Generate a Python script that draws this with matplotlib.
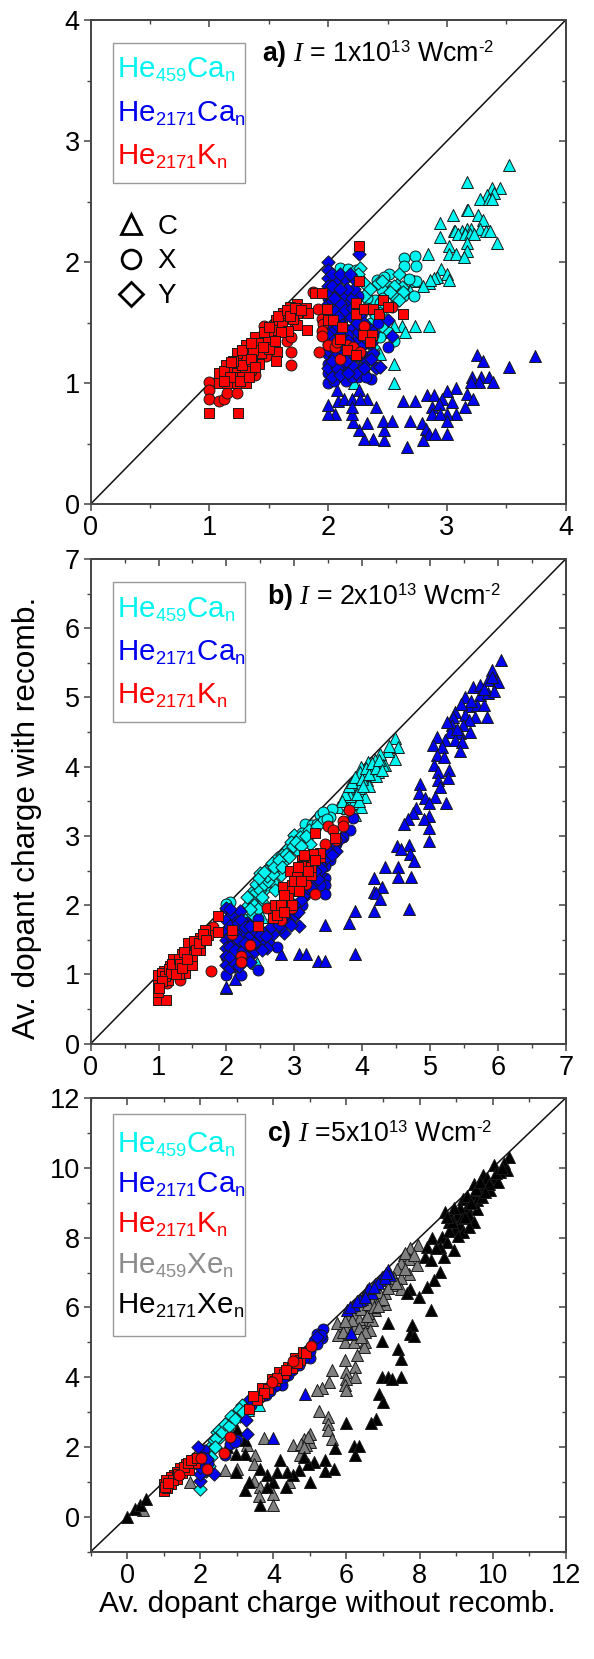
"""
Average dopant charge with and without recombination, three intensities.
Usage: python3 plot.py
"""

import numpy as np
import matplotlib
matplotlib.use('Agg')
import matplotlib.pyplot as plt
from matplotlib import _mathtext
from matplotlib.lines import Line2D
from matplotlib.patches import Rectangle

plt.rcParams['font.family'] = ['Liberation Sans', 'DejaVu Sans']
plt.rcParams['mathtext.fontset'] = 'custom'
plt.rcParams['mathtext.rm'] = 'Liberation Sans'
plt.rcParams['mathtext.it'] = 'Liberation Serif:italic'
plt.rcParams['mathtext.bf'] = 'Liberation Sans:bold'
# smaller sub/superscripts than the default 0.7
_mathtext.SHRINK_FACTOR = 0.62

CYAN = '#00f5f0'
BLUE = '#0000f0'
RED = '#ff0000'
GRAY = '#808080'
BLACK = '#000000'

# panel a, I = 1e13
a_he459ca_c = np.array([[3.52,2.80],[3.17,2.66],[3.38,2.61],[3.45,2.61],[3.40,2.57],[3.34,2.55],[3.28,2.52],[3.35,2.52],
    [3.38,2.52],[3.17,2.43],[3.18,2.43],[3.05,2.39],[3.26,2.39],[3.30,2.35],[2.94,2.32],[3.06,2.26],[3.07,2.26],[3.13,2.26],
    [3.17,2.27],[3.20,2.27],[3.28,2.27],[3.33,2.26],[3.36,2.26],[3.09,2.23],[3.15,2.23],[3.19,2.23],[3.23,2.23],[2.94,2.21],
    [3.17,2.16],[3.42,2.16],[3.02,2.13],[3.17,2.09],[2.84,2.07],[3.02,2.07],[3.08,2.07],[3.14,2.04],[2.95,1.94],[3.00,1.90],
    [2.92,1.88],[2.89,1.87],[3.02,1.85],[2.85,1.83],[2.86,1.85],[2.80,1.80],[2.72,1.84],[2.69,1.76],[2.73,1.47],[2.62,1.47],
    [2.55,1.47],[2.85,1.47],[2.50,1.42],[2.44,1.24],[2.55,1.16],[2.55,1.00],[2.22,1.00],[2.30,1.20],[2.38,1.50],[2.65,1.42]])
a_he459ca_x = np.array([[2.73,2.05],[2.64,2.03],[2.64,1.97],[2.74,1.97],[2.51,1.90],[2.74,1.84],[2.68,1.86],[2.41,1.85],
    [2.50,1.80],[2.54,1.77],[2.63,1.72],[2.72,1.72],[2.45,1.77],[2.39,1.69],[2.46,1.70],[2.37,1.60],[2.42,1.55],[2.50,1.42],
    [2.55,1.35],[2.10,1.95],[2.17,1.94],[2.23,1.93],[2.27,1.85],[2.33,1.70],[2.44,1.38],[2.42,1.62],[2.47,1.88],[2.57,1.68],
    [2.32,1.62],[2.36,1.50],[2.44,1.66],[2.38,1.25],[2.30,1.08]])
a_he459ca_y = np.array([[2.60,1.90],[2.27,1.95],[2.42,1.83],[2.45,1.84],[2.58,1.81],[2.62,1.79],[2.55,1.80],[2.63,1.75],
    [2.55,1.72],[2.60,1.69],[2.52,1.75],[2.30,1.83],[2.40,1.55],[2.45,1.47],[2.35,1.40],[2.38,1.30],[2.33,1.15],[2.25,1.90],
    [2.35,1.78],[2.30,1.72],[2.44,1.58]])
a_he2171ca_c = np.array([[3.74,1.22],[3.52,1.13],[3.25,1.23],[3.30,1.18],[3.21,1.05],[3.29,1.05],[3.35,1.05],[3.39,1.01],
    [3.27,1.01],[3.20,1.01],[3.08,0.96],[3.17,0.91],[3.22,0.87],[3.00,0.93],[3.04,0.84],[2.96,0.87],[2.83,0.90],[2.89,0.90],
    [2.63,0.85],[2.73,0.85],[2.87,0.80],[2.93,0.83],[3.15,0.80],[3.08,0.74],[3.00,0.74],[2.87,0.74],[2.94,0.74],[3.00,0.69],
    [2.69,0.69],[2.79,0.67],[2.82,0.62],[2.85,0.58],[2.90,0.58],[3.00,0.58],[2.80,0.53],[2.66,0.47],[2.47,0.53],[2.38,0.54],
    [2.30,0.54],[2.26,0.61],[2.47,0.61],[2.33,0.67],[2.46,0.69],[2.54,0.69],[2.21,0.68],[2.20,0.74],[2.06,0.74],[2.00,0.74],
    [2.00,0.82],[2.08,0.85],[2.13,0.87],[2.20,0.87],[2.20,0.80],[2.33,0.87],[2.40,0.80],[2.26,0.94],[2.07,0.94],[2.27,0.87]])
a_he2171ca_x = np.array([[2.00,1.00],[2.00,1.08],[2.00,1.16],[2.00,1.24],[2.00,1.32],[2.00,1.45],[2.00,1.58],[2.00,1.70],
    [2.08,1.05],[2.08,1.20],[2.08,1.35],[2.12,1.10],[2.15,1.02],[2.18,1.28],[2.20,1.45],[2.25,1.05],[2.28,1.12],[2.30,1.22],
    [2.36,1.03],[2.42,1.13],[2.50,1.30],[2.35,1.45],[2.30,1.60],[2.10,1.75],[2.15,1.60],[2.25,1.72],[2.05,1.12],[2.12,1.52],
    [2.04,1.42],[2.04,1.60],[2.05,1.02],[2.10,1.50],[2.14,1.15],[2.17,1.40],[2.22,1.22],[2.24,1.35],[2.26,1.50],[2.33,1.33],
    [2.38,1.40],[2.42,1.50],[2.32,1.05],[2.20,1.58],[2.13,1.32],[2.04,1.20],[2.12,1.68],[2.20,1.05],[2.28,1.42],[2.18,1.12]])
a_he2171ca_y = np.array([[2.00,2.00],[2.00,1.93],[2.00,1.87],[2.00,1.80],[2.00,1.73],[2.00,1.65],[2.00,1.55],[2.00,1.40],
    [2.00,1.27],[2.00,1.12],[2.26,2.07],[2.07,1.85],[2.14,1.86],[2.22,1.86],[2.07,1.76],[2.14,1.72],[2.50,1.52],[2.54,1.39],
    [2.38,1.25],[2.40,1.12],[2.44,1.13],[2.23,1.08],[2.17,1.65],[2.05,1.60],[2.09,1.55],[2.18,1.55],[2.10,1.40],[2.25,1.42],
    [2.03,1.30],[2.12,1.25],[2.20,1.15],[2.28,1.30],[2.33,1.18],[2.07,1.12],[2.15,1.18],[2.03,1.68],[2.20,1.70],[2.27,1.55],
    [2.12,1.48],[2.06,1.22],[2.22,1.78],[2.10,1.66],[2.16,1.78],[2.24,1.62],[2.31,1.42],[2.36,1.33],[2.03,1.90],[2.03,1.80],
    [2.05,1.70],[2.10,1.78],[2.10,1.90],[2.18,1.90],[2.14,1.60],[2.07,1.48],[2.04,1.35],[2.03,1.18],[2.03,1.05],[2.10,1.32],
    [2.10,1.07],[2.17,1.35],[2.17,1.08],[2.25,1.22],[2.30,1.50],[2.30,1.12],[2.38,1.42],[2.36,1.20],[2.20,1.62],[2.24,1.50]])
a_he2171k_x = np.array([[1.00,1.01],[1.00,0.94],[1.00,0.87],[1.08,0.85],[1.12,0.87],[1.15,0.92],[1.23,0.92],[1.38,1.07],
    [1.48,1.22],[1.46,1.47],[1.65,1.35],[1.69,1.26],[1.69,1.15],[1.69,1.38],[1.92,1.26],[1.87,1.75],[1.91,1.61],[1.95,1.53],
    [1.96,1.49],[1.95,1.43],[1.95,1.39],[2.00,1.31],[2.06,1.30],[2.10,1.20],[2.07,1.34],[2.16,1.31],[2.21,1.30],[2.27,1.26],
    [2.30,1.47],[2.54,1.63],[1.15,1.05],[1.25,1.20],[1.35,1.10],[1.55,1.40],[1.60,1.55],[1.72,1.50],[1.20,1.03],[1.42,1.30]])
a_he2171k_s = np.array([[1.00,0.75],[1.24,0.75],[2.26,2.13],[2.26,1.84],[1.89,1.74],[1.95,1.74],[1.74,1.65],[1.68,1.63],
    [1.81,1.62],[1.83,1.58],[1.74,1.58],[1.82,1.44],[1.99,1.61],[2.00,1.52],[2.04,1.52],[2.12,1.46],[2.10,1.36],[2.23,1.66],
    [2.23,1.57],[2.30,1.61],[2.38,1.61],[2.46,1.69],[2.43,1.57],[2.50,1.63],[2.63,1.57],[2.29,1.40],[2.37,1.40],[2.35,1.34],
    [2.16,1.27],[2.23,1.23],[1.08,1.08],[1.08,1.00],[1.15,1.00],[1.23,1.00],[1.31,1.00],[1.14,1.15],[1.19,1.12],[1.23,1.08],
    [1.30,1.13],[1.31,1.22],[1.31,1.31],[1.38,1.38],[1.43,1.33],[1.43,1.25],[1.42,1.16],[1.53,1.31],[1.56,1.44],[1.56,1.52],
    [1.61,1.48],[1.57,1.26],[1.56,1.18],[1.62,1.58],[1.74,1.48],[1.37,1.27],[1.23,1.25],[1.19,1.05],[1.49,1.38],[1.66,1.43],
    [1.70,1.53],[1.36,1.18],[1.12,1.10],[1.17,1.05],[1.12,1.02],[1.27,1.05],[1.27,1.15],[1.27,1.27],[1.20,1.18],[1.35,1.20],
    [1.35,1.33],[1.46,1.42],[1.50,1.46],[1.58,1.55],[1.65,1.60],[1.68,1.55],[1.72,1.62],[1.77,1.60],[1.60,1.42],[1.50,1.28],
    [1.38,1.13],[1.26,1.02],[1.18,1.17],[1.33,1.05],[1.45,1.30],[1.55,1.35]])

# panel b, I = 2e13
b_he459ca_c = np.array([[4.48,4.41],[4.53,4.28],[4.48,4.11],[4.38,4.23],[4.27,4.18],[4.19,4.09],[4.34,4.02],[4.09,4.07],
    [3.99,4.00],[4.12,3.95],[4.24,3.93],[4.16,3.95],[4.07,3.81],[3.97,3.93],[3.87,3.64],[3.99,3.64],[3.77,3.52],[3.87,3.47],
    [3.99,3.42],[3.89,3.30],[4.04,3.57],[4.21,3.86],[4.31,4.03],[4.03,3.88],[3.93,3.72],[3.82,3.58],[4.10,3.72],[3.95,3.50],
    [2.52,1.83],[2.45,1.16],[2.00,0.80],[3.75,3.60],[3.80,3.72],[3.85,3.78],[3.90,3.85],[3.95,3.70],[4.00,3.82],[4.05,3.98],
    [4.10,3.90],[4.15,4.05],[4.20,3.98],[4.25,4.10],[4.30,3.95],[3.65,3.42],[3.70,3.50],[3.78,3.40],[3.82,3.30],[4.40,4.30],
    [3.92,3.60],[4.02,3.72]])
b_he459ca_x = np.array([[3.16,3.18],[3.38,3.30],[3.56,3.39],[3.52,3.27],[3.43,3.35],[3.26,3.16],[2.05,2.05],[1.99,2.02],
    [3.00,3.00],[3.12,3.05],[3.33,3.18],[3.30,3.10],[3.20,3.00],[3.42,3.22],[3.48,3.25]])
b_he459ca_y = np.array([[2.40,2.22],[2.47,2.11],[2.32,2.00],[2.37,1.86],[2.27,1.79],[2.57,2.24],[2.69,2.34],[2.54,2.39],
    [2.77,2.56],[2.62,2.51],[2.86,2.65],[2.91,2.82],[3.04,2.80],[3.13,2.94],[3.23,2.89],[3.21,3.09],[3.33,3.14],[2.99,3.02],
    [2.81,2.44],[2.72,2.22],[2.45,2.29],[2.42,2.17],[2.54,2.03],[2.74,2.68],[2.67,2.61],[2.50,2.46],[2.82,2.72],[2.95,2.92],
    [2.58,2.50],[3.08,2.98],[2.36,2.08],[2.44,2.30],[2.50,2.22],[2.55,2.30],[2.62,2.35],[2.60,2.42],[2.68,2.45],[2.70,2.55],
    [2.78,2.65],[2.82,2.55],[2.88,2.74],[2.92,2.70],[2.98,2.85],[3.02,2.92],[3.10,2.85],[3.18,3.00],[2.52,2.12],[2.30,2.12],
    [2.40,2.00],[2.46,1.95],[2.35,1.95],[2.48,2.40],[2.55,2.48]])
b_he2171ca_c = np.array([[6.04,5.54],[5.91,5.40],[5.98,5.25],[5.86,5.25],[5.63,5.15],[5.74,5.18],[6.00,5.23],[5.91,5.30],
    [5.52,5.01],[5.74,5.03],[5.86,5.06],[5.57,4.88],[5.69,4.89],[5.79,4.89],[5.37,4.79],[5.52,4.75],[5.34,4.72],[5.66,4.72],
    [5.84,4.72],[5.57,4.67],[5.32,4.60],[5.49,4.60],[5.29,4.50],[5.44,4.48],[5.59,4.50],[5.22,4.38],[5.37,4.38],[5.10,4.43],
    [5.47,4.36],[5.05,4.31],[5.17,4.29],[5.44,4.22],[5.10,4.17],[5.20,4.14],[5.06,4.03],[5.12,3.93],[5.28,3.95],[5.12,3.81],
    [5.26,3.83],[5.15,3.71],[4.85,3.75],[4.84,3.62],[5.07,3.57],[4.93,3.55],[4.99,3.47],[5.23,3.47],[4.79,3.41],[4.75,3.33],
    [4.99,3.29],[4.68,3.24],[4.91,3.24],[4.61,3.17],[4.99,3.11],[4.99,2.93],[4.69,2.87],[4.52,2.86],[4.58,2.81],[4.71,2.74],
    [4.76,2.64],[4.33,2.55],[4.53,2.55],[4.53,2.41],[4.72,2.41],[4.17,2.39],[4.29,2.27],[4.17,2.19],[4.21,2.17],[4.26,2.09],
    [4.69,1.94],[3.90,1.92],[4.17,1.92],[3.45,1.71],[3.81,1.74],[2.81,1.29],[3.07,1.29],[3.17,1.29],[3.35,1.19],[3.45,1.19],
    [3.90,1.29],[2.13,0.94],[2.00,0.82],[5.95,5.10],[5.80,5.12],[5.60,4.95],[5.45,4.90],[5.40,4.55],[5.25,4.65]])
b_he2171ca_x = np.array([[3.86,3.26],[3.82,3.09],[3.72,2.99],[3.52,2.65],[3.45,2.56],[3.45,2.39],[3.46,2.29],[3.45,2.16],
    [3.38,2.29],[3.16,2.15],[3.11,2.00],[2.47,1.80],[2.27,1.59],[2.46,1.07],[2.22,0.99],[1.99,0.99],[2.74,1.39],[2.64,1.62],
    [2.45,1.47],[2.10,1.11],[2.27,1.21],[3.62,2.88],[3.30,2.40],[2.00,1.25],[2.10,1.62],[2.90,1.90],[3.40,2.60],[3.20,2.30],
    [2.05,1.40],[2.15,1.22]])
b_he2171ca_y = np.array([[3.61,2.79],[3.48,2.70],[3.38,2.60],[3.07,1.70],[2.85,1.60],[2.99,1.84],[2.81,1.69],[2.69,1.59],
    [2.62,1.47],[2.50,1.45],[2.40,1.33],[2.27,1.26],[2.15,1.35],[1.99,1.96],[1.99,1.79],[1.99,1.64],[1.99,1.50],[1.99,1.38],
    [1.99,1.26],[1.99,1.14],[2.08,1.88],[2.20,1.91],[2.13,1.74],[2.22,1.59],[2.10,1.47],[2.20,1.43],[2.30,1.40],[3.28,2.34],
    [3.18,2.17],[3.00,1.95],[2.70,1.80],[2.55,1.60],[2.35,1.55],[2.08,1.25],[2.18,1.22],[2.30,1.75],[3.38,2.45],[2.05,1.95],
    [2.05,1.70],[2.05,1.55],[2.05,1.40],[2.05,1.25],[2.05,1.10],[2.12,1.60],[2.12,1.35],[2.12,1.15],[2.17,1.75],[2.22,1.78],
    [2.28,1.68],[2.18,1.50],[2.25,1.35],[2.30,1.25],[2.40,1.45],[2.44,1.62],[2.35,1.70],[2.28,1.45],[2.50,1.57],[2.58,1.55],
    [2.65,1.68],[2.78,1.72],[2.90,1.78],[2.95,1.72],[3.05,1.90],[3.10,2.08],[3.20,2.25],[3.25,2.25],[3.35,2.38],[3.40,2.52],
    [3.30,2.50],[3.50,2.80],[3.55,2.72],[3.68,2.95],[3.00,2.00],[2.85,1.85],[2.60,1.38],[2.52,1.35],[2.35,1.18],[2.18,1.12]])
b_he2171k_x = np.array([[3.80,3.37],[3.72,3.21],[3.72,3.14],[3.49,3.14],[3.57,3.08],[3.62,2.94],[3.45,2.89],[3.17,2.30],
    [3.31,2.16],[2.60,1.96],[2.96,1.96],[2.81,1.78],[2.08,1.59],[2.35,1.43],[2.21,1.26],[2.21,1.18],[1.78,1.05],[1.12,0.88],
    [1.31,0.92],[1.80,1.69]])
b_he2171k_s = np.array([[0.99,0.63],[1.11,0.63],[0.99,0.75],[0.99,0.88],[0.99,0.99],[1.14,0.92],[1.12,1.02],[1.24,1.09],
    [1.27,1.21],[1.39,1.02],[1.49,1.14],[1.49,1.26],[1.46,1.35],[1.44,1.46],[1.61,1.35],[1.61,1.52],[1.73,1.57],[1.68,1.64],
    [1.87,1.62],[1.88,1.84],[1.37,1.23],[1.22,1.23],[2.08,1.64],[2.47,1.70],[3.31,3.04],[3.60,2.97],[3.38,2.70],[3.24,2.44],
    [3.18,2.61],[3.11,2.65],[3.21,2.70],[3.38,2.75],[2.93,2.50],[3.11,2.49],[3.04,2.41],[2.84,2.27],[2.96,2.29],[2.96,2.20],
    [3.07,2.20],[2.91,2.11],[2.96,2.00],[2.72,2.00],[2.69,1.81],[2.74,1.86],[3.13,2.56],[1.30,1.00],[1.05,0.95],[1.17,1.12],
    [1.08,1.05],[1.34,1.30],[1.30,1.10],[1.53,1.42],[1.20,1.00],[3.28,2.74],[1.05,1.02],[1.10,0.98],[1.15,1.08],[1.18,1.02],
    [1.20,1.15],[1.25,1.00],[1.30,1.22],[1.32,1.15],[1.35,1.10],[1.38,1.32],[1.42,1.22],[1.52,1.48],[1.55,1.35],[1.60,1.45],
    [1.65,1.58],[1.70,1.50],[1.05,0.90],[1.00,0.80],[3.25,2.55],[3.20,2.50],[3.30,2.65],[3.15,2.72],[3.05,2.55],[3.00,2.35],
    [3.10,2.35],[2.85,2.15],[2.80,2.00],[2.85,1.90]])

# panel c, I = 5e13
c_he459xe_c = np.array([[7.97,7.78],[7.75,7.69],[7.57,7.50],[7.71,7.40],[7.94,7.21],[7.48,7.26],[7.71,6.97],[7.38,7.11],
    [7.48,6.83],[7.24,6.63],[7.48,6.54],[7.06,6.40],[6.83,6.30],[7.06,6.11],[6.70,6.16],[6.47,6.01],[6.79,5.92],[6.24,5.82],
    [6.01,5.73],[6.47,5.58],[6.70,5.63],[5.74,5.54],[6.24,5.44],[5.97,5.44],[6.65,5.34],[5.78,5.22],[5.97,5.01],[6.20,5.01],
    [6.51,5.01],[6.47,4.87],[6.29,4.63],[5.97,4.48],[6.24,4.29],[5.60,4.22],[5.99,4.16],[6.24,4.02],[5.99,3.96],[5.51,3.86],
    [5.97,3.77],[5.33,3.70],[5.19,3.62],[5.99,3.62],[5.24,3.02],[5.49,2.86],[5.49,2.67],[5.49,2.50],[5.60,2.22],[5.01,2.38],
    [4.83,2.24],[5.01,2.14],[4.55,2.05],[4.73,1.76],[3.73,2.27],[3.28,2.05],[3.50,1.76],[3.46,1.52],[3.00,1.38],[2.68,1.33],
    [3.46,1.04],[3.64,0.85],[3.60,0.61],[4.00,0.66],[4.00,0.34],[4.42,1.01],[1.72,1.01],[0.43,0.20],[6.60,5.85],[6.90,6.20],
    [7.20,6.90],[7.60,7.10],[6.35,5.68],[5.90,5.30],[4.90,2.05],[4.75,2.10],[6.40,5.95],[6.55,5.75],[6.58,6.10],[6.75,6.00],
    [6.90,6.45],[7.00,6.25],[7.15,6.55],[7.30,6.85],[7.60,7.55],[7.85,7.50],[6.15,5.65],[6.35,5.40],[6.50,5.30],[6.85,6.05],
    [7.35,6.70],[6.10,5.25],[6.40,5.15],[5.95,5.62],[4.95,2.28],[4.85,2.00]])
c_he2171xe_c = np.array([[10.46,10.30],[10.30,10.13],[10.40,9.95],[10.20,9.88],[10.03,10.07],[9.75,9.79],[10.03,9.65],[9.48,9.55],
    [9.75,9.45],[9.48,9.26],[9.94,9.36],[9.57,9.07],[9.20,9.12],[9.30,8.88],[9.57,8.83],[8.70,8.74],[9.02,8.64],[9.34,8.64],
    [8.80,8.45],[9.48,8.45],[9.11,8.36],[8.98,8.26],[9.20,8.16],[8.34,8.00],[8.61,8.02],[8.75,7.88],[8.20,7.73],[8.57,7.73],
    [8.93,7.64],[8.16,7.45],[8.66,7.45],[8.30,7.35],[8.57,7.02],[8.39,6.78],[8.20,6.59],[7.75,6.54],[7.66,6.40],[7.98,6.30],
    [8.31,5.92],[7.14,5.54],[7.79,5.49],[7.75,5.25],[7.84,5.17],[6.97,5.03],[7.41,4.82],[7.49,4.53],[7.49,4.01],[6.97,4.02],
    [7.15,4.00],[7.24,3.96],[6.88,3.51],[7.00,3.29],[6.81,2.81],[6.68,2.70],[5.99,2.69],[6.20,2.03],[6.35,2.03],[6.24,1.76],
    [5.69,1.98],[5.67,1.36],[5.42,1.62],[5.42,1.31],[5.10,1.57],[4.96,1.52],[4.85,1.71],[4.99,1.01],[4.69,1.33],[4.55,1.19],
    [4.37,1.28],[4.19,1.62],[4.11,1.28],[4.34,0.85],[4.00,1.01],[3.82,1.19],[3.82,0.85],[3.64,1.38],[3.32,1.01],[3.23,0.76],
    [3.64,0.34],[2.98,1.28],[3.23,1.81],[2.98,1.81],[2.73,2.00],[3.00,2.48],[3.23,2.19],[0.00,0.00],[0.22,0.23],[0.36,0.33],
    [0.52,0.52],[9.85,9.70],[9.60,9.35],[9.10,8.85],[8.85,8.60],[9.30,9.20],[10.15,9.60],[9.70,9.15],[10.10,9.85],[9.90,9.55],
    [9.55,9.40],[9.65,9.60],[9.40,9.00],[9.15,8.55],[8.95,8.85],[8.80,8.20],[9.05,8.05],[9.35,8.30],[8.90,8.45],[10.25,10.00],
    [9.80,9.30],[9.25,8.60],[8.75,8.60],[8.45,7.70]])
c_he459ca_y = np.array([[2.00,0.80],[2.32,2.05],[2.45,2.43],[2.64,2.62],[2.82,2.81],[3.00,3.00],[3.14,3.19],[2.38,2.20],
    [2.55,2.30],[2.72,2.50],[2.90,2.75],[3.08,2.90],[2.20,1.75],[2.25,1.45],[2.15,1.30],[2.30,1.90],[2.42,2.25],[2.50,2.48],
    [2.60,2.42],[2.68,2.65],[2.78,2.60],[2.85,2.88],[2.96,2.80],[3.05,3.08],[3.18,3.00],[2.28,1.72],[2.40,2.00]])
c_he459ca_c = np.array([[3.60,3.20],[3.30,3.05],[3.10,3.10],[2.95,2.90],[4.10,3.80]])
c_he2171ca_c = np.array([[4.87,3.51],[4.00,2.27],[6.13,5.27],[6.01,5.92],[6.20,6.06],[6.42,6.25],[6.56,6.49],[6.70,6.42],
    [6.79,6.68],[6.97,6.87],[7.15,7.06],[7.20,6.92],[6.92,6.78],[6.38,6.20],[6.10,6.01],[6.62,6.55],[6.85,6.70],[7.05,6.85],
    [6.28,6.18],[6.50,6.30],[6.75,6.58],[7.08,7.00]])
c_he2171ca_x = np.array([[5.37,5.37],[5.19,5.25],[5.33,5.13],[5.01,4.55],[4.23,3.77],[3.80,3.48],[3.00,2.21],[2.82,2.09],
    [2.68,1.76],[2.09,1.92],[2.04,1.71],[4.60,4.35],[4.40,4.05],[5.10,5.05],[3.60,3.40],[4.05,3.75],[3.40,3.20],[3.70,3.45],
    [3.90,3.60],[4.30,4.00],[4.50,4.20],[4.70,4.35],[4.85,4.55],[5.00,4.75],[5.20,4.95],[5.30,5.20],[2.20,1.55],[2.10,1.30],
    [2.95,2.15]])
c_he2171ca_y = np.array([[1.95,2.00],[2.18,1.65],[3.24,2.76],[3.28,2.38],[2.38,1.23],[2.00,1.04],[2.00,1.23],[3.37,3.38],
    [2.00,1.42],[5.20,5.15],[4.85,4.70]])
c_he2171k_x = np.array([[5.03,4.89],[2.82,2.30],[2.64,1.84],[2.18,1.36],[2.02,1.68],[1.41,1.21],[3.95,3.85],[4.55,4.45]])
c_he2171k_s = np.array([[3.32,3.10],[3.61,3.45],[3.70,3.70],[3.85,3.65],[3.95,3.95],[4.05,3.90],[4.15,4.15],[4.28,4.08],
    [4.40,4.30],[4.50,4.25],[4.60,4.55],[4.72,4.50],[4.80,4.72],[4.90,4.70],[1.00,0.75],[1.00,0.95],[1.08,0.90],[1.15,1.05],
    [1.20,0.95],[1.28,1.20],[1.35,1.08],[1.45,1.40],[1.50,1.25],[1.60,1.50],[1.70,1.35],[1.80,1.62],[1.85,1.55],[1.20,1.15],
    [1.05,1.05],[1.35,1.28],[3.75,3.55],[3.55,3.35],[3.45,3.45],[4.10,3.98],[4.35,4.22],[4.65,4.40],[1.10,0.82],[1.25,1.05],
    [1.40,1.22],[1.55,1.42],[1.65,1.55],[1.75,1.62],[1.90,1.68],[1.02,0.85],[1.12,0.98]])

he459ca = r'$\mathrm{He_{459}Ca_n}$'
he2171ca = r'$\mathrm{He_{2171}Ca_n}$'
he2171k = r'$\mathrm{He_{2171}K_n}$'
he459xe = r'$\mathrm{He_{459}Xe_n}$'
he2171xe = r'$\mathrm{He_{2171}Xe_n}$'

W, H = 594, 1659
EDGE = '#1a1a1a'
SPINE = '#444444'


def px(x, y):
    return x / W, 1 - y / H


def make_axes(top, bottom, lims, major, minor):
    ax = fig.add_axes([90.7 / W, 1 - bottom / H, 475 / W, (bottom - top) / H])
    ax.set_xlim(lims)
    ax.set_ylim(lims)
    ax.plot(lims, lims, color='#111111', lw=1.1, zorder=1)
    ax.set_xticks(major)
    ax.set_yticks(major)
    ax.set_xticks(minor, minor=True)
    ax.set_yticks(minor, minor=True)
    ax.tick_params(which='major', length=4.8, width=1.1, color=SPINE, labelsize=19.5, pad=3)
    ax.tick_params(which='minor', length=2.6, width=1.0, color=SPINE)
    top_ax = ax.secondary_xaxis('top')
    right_ax = ax.secondary_yaxis('right')
    for sec in (top_ax, right_ax):
        sec.set_ticks(major)
        sec.set_ticks(minor, minor=True)
        sec.tick_params(which='major', direction='in', length=4.8, width=1.1, color=SPINE,
                        labeltop=False, labelright=False)
        sec.tick_params(which='minor', direction='in', length=2.6, width=1.0, color=SPINE)
        for s in sec.spines.values():
            s.set_color(SPINE)
            s.set_linewidth(1.4)
    for s in ax.spines.values():
        s.set_color(SPINE)
        s.set_linewidth(1.4)
    return ax


def draw(ax, pts, marker, color, z):
    sizes = {'^': 74, 'o': 62, 'D': 46, 's': 44}
    ax.scatter(pts[:, 0], pts[:, 1], marker=marker, s=sizes[marker], c=color,
               edgecolors=EDGE, linewidths=0.7, zorder=z, clip_on=False)


def name_box(top, bottom, names, colors, baselines):
    x0, y0 = px(113, bottom)
    fig.add_artist(Rectangle((x0, y0), 132 / W, (bottom - top) / H, transform=fig.transFigure,
                             fc='white', ec='#999999', lw=1.0, zorder=5))
    for name, color, base in zip(names, colors, baselines):
        x, y = px(117, base)
        fig.text(x, y, name, color=color, fontsize=21.3, va='baseline', zorder=6)


def title(x, base, label):
    tx, ty = px(x, base)
    fig.text(tx, ty, label, fontsize=19.3, va='baseline', zorder=6)


fig = plt.figure(figsize=(W / 100, H / 100), dpi=100)

ax_a = make_axes(20, 504, [0, 4], np.arange(0, 5), np.arange(0.5, 4, 1))
draw(ax_a, a_he459ca_c, '^', CYAN, 2)
draw(ax_a, a_he459ca_x, 'o', CYAN, 2.1)
draw(ax_a, a_he459ca_y, 'D', CYAN, 2.2)
draw(ax_a, a_he2171ca_c, '^', BLUE, 3)
draw(ax_a, a_he2171ca_x, 'o', BLUE, 3.1)
draw(ax_a, a_he2171ca_y, 'D', BLUE, 3.2)
draw(ax_a, a_he2171k_x, 'o', RED, 4)
draw(ax_a, a_he2171k_s, 's', RED, 4.1)
name_box(43, 183, [he459ca, he2171ca, he2171k], [CYAN, BLUE, RED], [77, 121, 164])
keys = [Line2D([], [], ls='none', marker=m, ms=ms, mfc='white', mec='black', mew=2.0)
        for m, ms in (('^', 15), ('o', 13.5), ('D', 12.5))]
ax_a.legend(keys, ['C', 'X', 'Y'], loc='upper left', bbox_to_anchor=(0.03, 0.623),
            frameon=False, fontsize=20, numpoints=1, handlelength=1.1, handletextpad=0.4,
            labelspacing=0.32, borderaxespad=0)
title(262, 62, r'$\mathbf{a)}$ $\mathit{I}$ = 1x10$^{13}$ Wcm$^{\mathrm{\text{-}2}}$')

ax_b = make_axes(559, 1043.7, [0, 7], np.arange(0, 8), np.arange(0.5, 7, 1))
draw(ax_b, b_he459ca_c, '^', CYAN, 2)
draw(ax_b, b_he459ca_x, 'o', CYAN, 2.1)
draw(ax_b, b_he459ca_y, 'D', CYAN, 2.2)
draw(ax_b, b_he2171ca_c, '^', BLUE, 3)
draw(ax_b, b_he2171ca_x, 'o', BLUE, 3.1)
draw(ax_b, b_he2171ca_y, 'D', BLUE, 3.2)
draw(ax_b, b_he2171k_x, 'o', RED, 4)
draw(ax_b, b_he2171k_s, 's', RED, 4.1)
name_box(582, 722, [he459ca, he2171ca, he2171k], [CYAN, BLUE, RED], [617, 660, 703])
title(267, 605, r'$\mathbf{b)}$ $\mathit{I}$ = 2x10$^{13}$ Wcm$^{\mathrm{\text{-}2}}$')

ax_c = make_axes(1098, 1551.7, [-1, 12], np.arange(0, 13, 2), np.arange(-1, 13, 2))
draw(ax_c, c_he459xe_c, '^', GRAY, 2)
draw(ax_c, c_he2171xe_c, '^', BLACK, 2.5)
draw(ax_c, c_he459ca_c, '^', CYAN, 3)
draw(ax_c, c_he459ca_y, 'D', CYAN, 3.2)
draw(ax_c, c_he2171ca_c, '^', BLUE, 3.5)
draw(ax_c, c_he2171ca_x, 'o', BLUE, 3.6)
draw(ax_c, c_he2171ca_y, 'D', BLUE, 3.7)
draw(ax_c, c_he2171k_s, 's', RED, 4)
draw(ax_c, c_he2171k_x, 'o', RED, 4.1)
name_box(1114, 1336, [he459ca, he2171ca, he2171k, he459xe, he2171xe],
         [CYAN, BLUE, RED, '#8c8c8c', BLACK], [1152, 1192, 1232, 1273, 1313])
title(267, 1142, r'$\mathbf{c)}$ $\mathit{I}$ =5x10$^{13}$ Wcm$^{\mathrm{\text{-}2}}$')

fig.text(27 / W, 1 - 818 / H, 'Av. dopant charge with recomb.', rotation=90, fontsize=22.8,
         ha='center', va='center')
fig.text(327 / W, 1 - 1604 / H, 'Av. dopant charge without recomb.', fontsize=21.4,
         ha='center', va='center')

fig.savefig('out.png', dpi=100)
print("Saved: out.png")
